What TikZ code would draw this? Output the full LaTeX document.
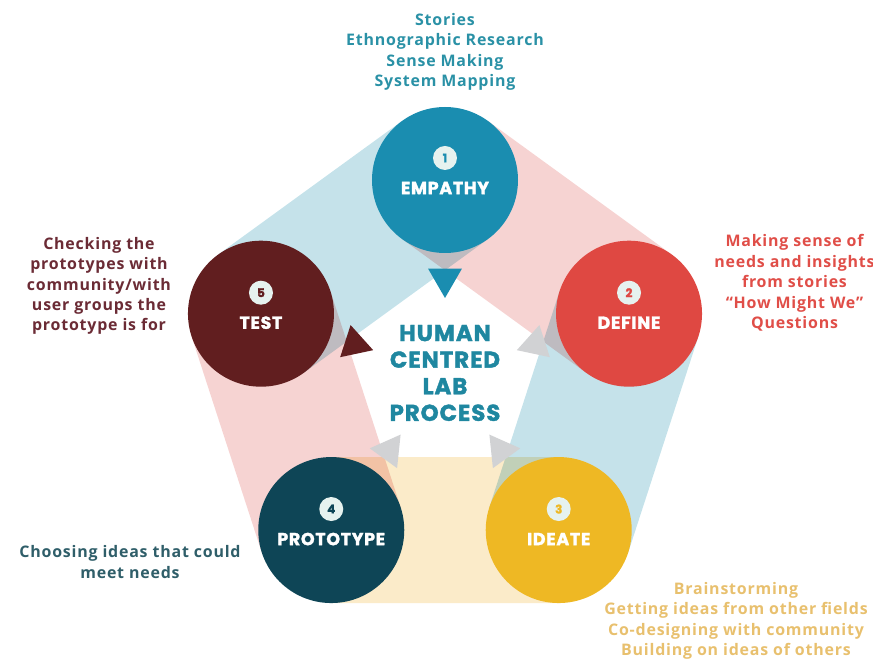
\documentclass[tikz,border=0pt]{standalone}
\usepackage{fontspec}
\setmainfont{Open Sans}[LetterSpace=5]
\newfontfamily\titolo{Poppins}[LetterSpace=4, BoldFeatures={FakeBold=1.6}]
\usetikzlibrary{shapes.geometric,backgrounds}

\definecolor{empcol}{HTML}{1A8DB0}
\definecolor{defcol}{HTML}{DF4842}
\definecolor{ideacol}{HTML}{EEB824}
\definecolor{protcol}{HTML}{0E4556}
\definecolor{testcol}{HTML}{611E1F}
\definecolor{bandblu}{HTML}{C5E2EA}
\definecolor{bandrosa}{HTML}{F6D3D2}
\definecolor{bandgiallo}{HTML}{FBEBC9}
\definecolor{grigio}{HTML}{D1D2D4}
\definecolor{badge}{HTML}{E6F2EF}
\definecolor{centro}{HTML}{1F87A0}
\definecolor{notaemp}{HTML}{2A91A6}
\definecolor{notadef}{HTML}{E04E48}
\definecolor{notaidea}{HTML}{E8C06E}
\definecolor{notaprot}{HTML}{2F5E69}
\definecolor{notatest}{HTML}{6B2B35}

\begin{document}
\begin{tikzpicture}
    [x=1bp, y=1bp,
     cerchio/.style={circle, minimum size=146bp, inner sep=0pt},
     fascia/.style={line width=146bp},
     numero/.style={circle, fill=badge, minimum size=24bp, inner sep=0pt, font=\titolo\bfseries\fontsize{12}{12}\selectfont},
     fase/.style={text=white, font=\titolo\bfseries\fontsize{17.5}{17.5}\selectfont},
     freccia/.style={regular polygon, regular polygon sides=3, minimum size=39bp, inner sep=0pt},
     nota/.style={align=center, font=\bfseries\fontsize{16}{20.5}\selectfont}]

    \useasboundingbox (-445,-288.5) rectangle (428,373.5);

    \node[cerchio, fill=empcol] (emp) at (90:193.5) {};
    \node[cerchio, fill=defcol] (def) at (18:193.5) {};
    \node[cerchio, fill=ideacol] (idea) at (-54:193.5) {};
    \node[cerchio, fill=protcol] (prot) at (-126:193.5) {};
    \node[cerchio, fill=testcol] (test) at (162:193.5) {};

    \begin{scope}[on background layer]
    \begin{scope}[blend group=multiply]
        \draw[fascia, bandblu] (emp.center) -- (test.center);
        \draw[fascia, bandrosa] (emp.center) -- (def.center);
        \draw[fascia, bandblu] (def.center) -- (idea.center);
        \draw[fascia, bandgiallo] (idea.center) -- (prot.center);
        \draw[fascia, bandrosa] (prot.center) -- (test.center);
    \end{scope}
    \end{scope}

    \node[freccia, fill=empcol, rotate=180] (f1) at (90:95) {};
    \node[freccia, fill=grigio, rotate=108] (f2) at (18:95) {};
    \node[freccia, fill=grigio, rotate=36] (f3) at (-54:95) {};
    \node[freccia, fill=grigio, rotate=-36] (f4) at (-126:95) {};
    \node[freccia, fill=testcol, rotate=252] (f5) at (162:95) {};

    \node[numero, text=empcol] (n1) at ([yshift=22bp]emp.center) {1};
    \node[numero, text=defcol] (n2) at ([yshift=21bp]def.center) {2};
    \node[numero, text=ideacol] (n3) at ([yshift=21bp]idea.center) {3};
    \node[numero, text=protcol] (n4) at ([yshift=21bp]prot.center) {4};
    \node[numero, text=testcol] (n5) at ([yshift=21bp]test.center) {5};

    \node[fase] (l1) at ([yshift=-8bp]emp.center) {EMPATHY};
    \node[fase] (l2) at ([yshift=-9bp]def.center) {DEFINE};
    \node[fase] (l3) at ([yshift=-9bp]idea.center) {IDEATE};
    \node[fase] (l4) at ([yshift=-9bp]prot.center) {PROTOTYPE};
    \node[fase] (l5) at ([yshift=-9bp]test.center) {TEST};

    \node[align=center, text=centro, font=\titolo\bfseries\fontsize{23}{26.7}\selectfont] (titolo) at (0,0.5) {HUMAN\\CENTRED\\LAB\\PROCESS};

    \node[nota, text=notaemp] (d1) at (0,321.5) {Stories\\Ethnographic Research\\Sense Making\\System Mapping};
    \node[nota, text=notadef] (d2) at (349.5,90.5) {Making sense of\\needs and insights\\from stories\\“How Might We”\\Questions};
    \node[nota, text=notaidea] (d3) at (291,-247.5) {Brainstorming\\Getting ideas from other fields\\Co-designing with community\\Building on ideas of others};
    \node[nota, text=notaprot] (d4) at (-315,-188.5) {Choosing ideas that could\\meet needs};
    \node[nota, text=notatest] (d5) at (-346,87.5) {Checking the\\prototypes with\\community/with\\user groups the\\prototype is for};

\end{tikzpicture}
\end{document}
